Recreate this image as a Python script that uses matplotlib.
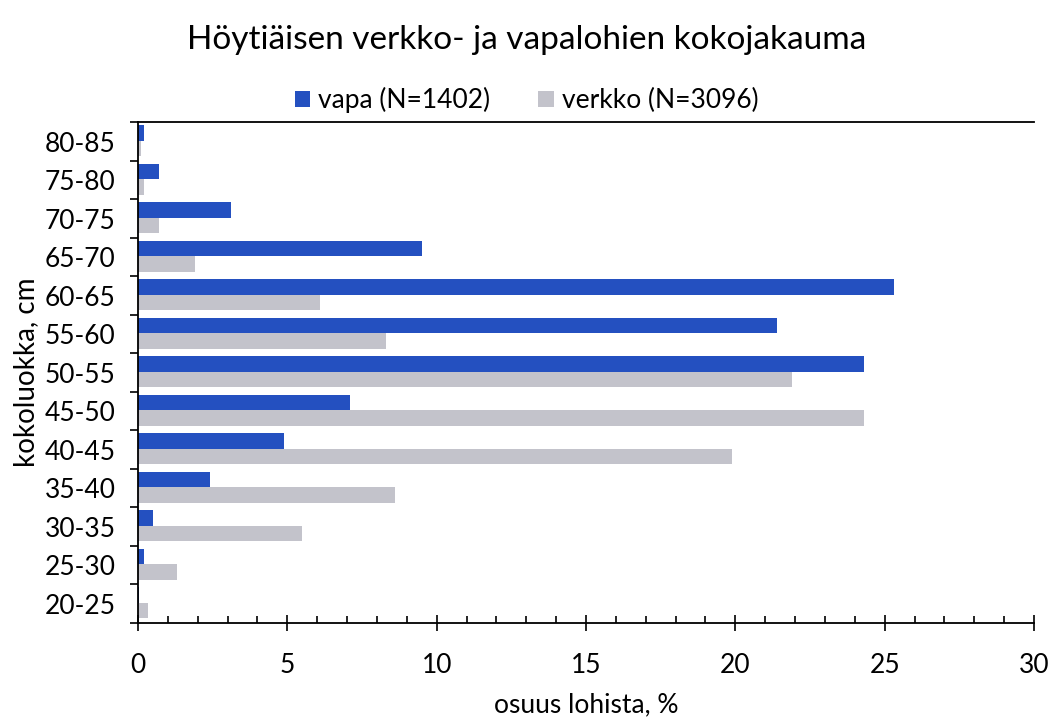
"""Höytiäisen verkko- ja vapalohien kokojakauma (vaakapalkit)."""

import numpy as np
import matplotlib
matplotlib.use("Agg")
import matplotlib.pyplot as plt
from matplotlib.ticker import MultipleLocator

plt.rcParams["font.family"] = ["Lato", "DejaVu Sans"]

classes = ["20-25", "25-30", "30-35", "35-40", "40-45", "45-50", "50-55",
           "55-60", "60-65", "65-70", "70-75", "75-80", "80-85"]
vapa = [0.05, 0.2, 0.5, 2.4, 4.9, 7.1, 24.3, 21.4, 25.3, 9.5, 3.1, 0.7, 0.2]
verkko = [0.35, 1.3, 5.5, 8.6, 19.9, 24.3, 21.9, 8.3, 6.1, 1.9, 0.7, 0.2, 0.1]

fig = plt.figure(figsize=(10.53, 7.2), dpi=100)
ax = fig.add_axes([0.131, 0.135, 0.851, 0.695])

y = np.arange(len(classes))
h = 0.4
ax.barh(y + h / 2 + 0.02, vapa, height=h, color="#2450c0", label="vapa (N=1402)")
ax.barh(y - h / 2 + 0.02, verkko, height=h, color="#c3c3cb", label="verkko (N=3096)")

ax.set_xlim(0, 30)
ax.set_ylim(-0.5, len(classes) - 0.5)
ax.set_yticks(y)
ax.set_yticklabels(classes)
ax.set_yticks(np.arange(len(classes) + 1) - 0.5, minor=True)
ax.tick_params(axis="y", which="major", length=0, labelsize=19, pad=16)
ax.tick_params(axis="y", which="minor", length=6, width=1.2, direction="out")
ax.xaxis.set_major_locator(MultipleLocator(5))
ax.xaxis.set_minor_locator(MultipleLocator(1))
ax.tick_params(axis="x", which="major", direction="inout", length=12, width=1.2, labelsize=19, pad=16)
ax.tick_params(axis="x", which="minor", direction="in", length=5, width=1.2)

ax.spines["right"].set_visible(False)
for s in ["left", "bottom", "top"]:
    ax.spines[s].set_linewidth(1.3)

ax.set_xlabel("osuus lohista, %", fontsize=19, labelpad=10)
ax.set_ylabel("kokoluokka, cm", fontsize=20, labelpad=4)

fig.suptitle("Höytiäisen verkko- ja vapalohien kokojakauma", fontsize=24, y=0.965)
fig.legend(loc="upper center", bbox_to_anchor=(0.5, 0.912), ncol=2, frameon=False,
           fontsize=19, handlelength=0.6, handleheight=0.6, handletextpad=0.3,
           columnspacing=1.8)

plt.savefig("out.png", dpi=100)
plt.close()
